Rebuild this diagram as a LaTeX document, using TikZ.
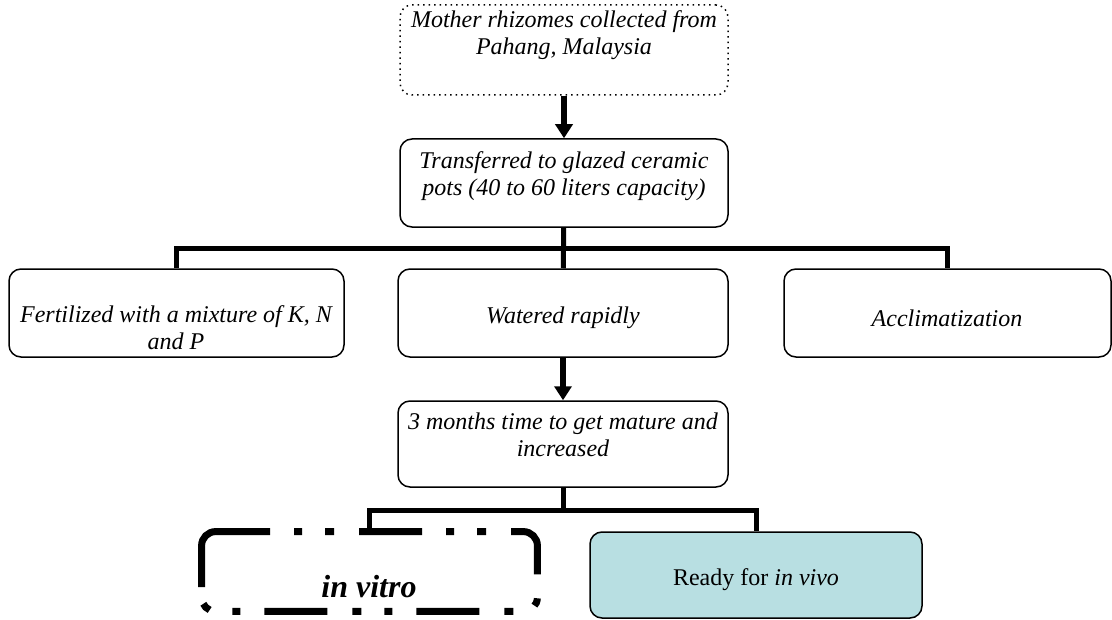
\documentclass[tikz,border=0pt]{standalone}
\usepackage{fontspec}
\setmainfont{Liberation Serif}
\usetikzlibrary{arrows.meta,fit}

\definecolor{vivofill}{RGB}{184,223,226}

\tikzset{
    box/.style={draw, line width=0.75pt, rounded corners=6pt, inner sep=0pt},
    txt/.style={align=center, inner sep=0pt, font=\fontsize{12}{13.6}\selectfont\itshape},
    conn/.style={line width=2.5pt},
    arr/.style={line width=3pt, -{Triangle[width=8.5pt,length=7pt]}},
    vitroline/.style={line width=3.5pt, rounded corners=7pt},
}

\begin{document}
\begin{tikzpicture}[x=0.5pt, y=-0.5pt]

    % the frame
    \useasboundingbox (0,0) rectangle (1112,620);

    % the boxes
    \node[box, dotted, fit={(400,5) (728,95)}] (mother) {};
    \node[box, fit={(400,139) (728,227)}] (transf) {};
    \foreach \nm/\xa/\xb in {fert/9/344, water/398/728, acclim/784/1111} {
        \node[box, fit={(\xa,269) (\xb,357)}] (\nm) {};
    }
    \node[box, fit={(398,401) (728,487)}] (three) {};
    \node[inner sep=0pt, fit={(202,532) (537,611)}] (vitro) {};
    \node[box, fill=vivofill, fit={(590,532) (922,618)}] (vivo) {};

    % the dash-dot-dot border of in vitro
    \draw[vitroline] (vitro.west |- 0,587) -- (vitro.north west) -- (vitro.north -| 270,0);
    \draw[vitroline, dash pattern=on 31.5pt off 12pt on 4pt off 11.5pt on 4.5pt off 12.5pt,
          dash phase=31.5pt]
        (vitro.north -| 270,0) -- (vitro.north east) -- (vitro.south east)
        -- (vitro.south west) -- (vitro.west |- 0,587);

    % the texts
    \node[txt] (motherT) at (564,35) {Mother rhizomes collected from\\Pahang, Malaysia};
    \node[txt] (transfT) at (564,176) {Transferred to glazed ceramic\\pots (40 to 60 liters capacity)};
    \node[txt] (fertT) at (176,328) {Fertilized with a mixture of K, N\\and P};
    \node[txt] (waterT) at (563,318) {Watered rapidly};
    \node[txt] (acclimT) at (947,318) {Acclimatization};
    \node[txt] (threeT) at (563,435) {3 months time to get mature and\\increased};
    \node[txt, font=\fontsize{16}{19}\selectfont\bfseries\itshape] (vitroT) at (369,587) {in vitro};
    \node[txt, font=\fontsize{12}{13.6}\selectfont] (vivoT) at (756,580) {Ready for \textit{in vivo}};

    % the links
    \coordinate (split1) at (563,248);
    \coordinate (split2) at (563,510);
    \draw[arr] (mother) -- (transf);
    \draw[conn] (transf) -- (water);
    \draw[conn] (fert.north) |- (split1) -| (acclim.north);
    \draw[arr] (water) -- (three);
    \draw[conn] (three) -- (split2);
    \draw[conn] (vitro.north) |- (split2) -| (vivo.north);

\end{tikzpicture}
\end{document}
